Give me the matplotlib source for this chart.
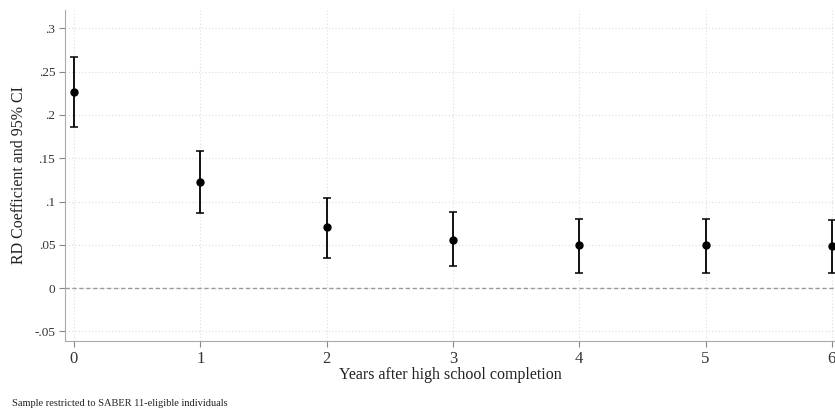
import numpy as np
import matplotlib.pyplot as plt
from matplotlib.ticker import FuncFormatter

# years after completion, RD estimate and 95% CI bounds
years = [0, 1, 2, 3, 4, 5, 6]
coef = [0.226, 0.122, 0.070, 0.056, 0.050, 0.050, 0.049]
ci_lo = [0.186, 0.087, 0.035, 0.025, 0.018, 0.018, 0.017]
ci_hi = [0.267, 0.158, 0.104, 0.088, 0.080, 0.080, 0.079]
yticks = [-0.05, 0, 0.05, 0.1, 0.15, 0.2, 0.25, 0.3]

plt.rcParams['font.family'] = ['Liberation Serif', 'DejaVu Serif']

fig = plt.figure(figsize=(8.35, 4.13), dpi=100)
ax = fig.add_axes([0.0778, 0.1743, 0.9222, 0.8015])

coef = np.array(coef)
err = [coef - np.array(ci_lo), np.array(ci_hi) - coef]
ax.errorbar(years, coef, yerr=err, fmt='o', color='black', ms=5,
            elinewidth=1.3, capsize=3, capthick=1.1, zorder=3)

ax.axhline(0, color='#999999', ls=(0, (3, 2)), lw=1, zorder=2)

ax.set_xlim(-0.071, 6.025)
ax.set_ylim(-0.061, 0.321)
ax.set_xticks(years)
ax.set_yticks(yticks)

def fmt(v, pos):
    if abs(v) < 1e-9:
        return '0'
    s = ('%g' % v)
    return s.replace('0.', '.')

ax.yaxis.set_major_formatter(FuncFormatter(fmt))

ax.grid(True, color='#dddddd', ls=(0, (1, 2)), lw=0.8)
ax.set_axisbelow(True)
for s in ['top', 'right']:
    ax.spines[s].set_visible(False)
for s in ['left', 'bottom']:
    ax.spines[s].set_color('#aaaaaa')
ax.tick_params(axis='x', colors='#888888', labelcolor='#333333', labelsize=12, length=4, pad=3)
ax.tick_params(axis='y', colors='#888888', labelcolor='#333333', labelsize=9.5, length=4, pad=3)

ax.set_xlabel('Years after high school completion', fontsize=11.5, color='#222222', labelpad=0)
ax.set_ylabel('RD Coefficient and 95% CI', fontsize=11.5, color='#222222', labelpad=5)

fig.text(0.0144, 0.022, 'Sample restricted to SABER 11-eligible individuals',
         fontsize=7.5, color='#222222', va='center')

fig.savefig('out.png', dpi=100)
